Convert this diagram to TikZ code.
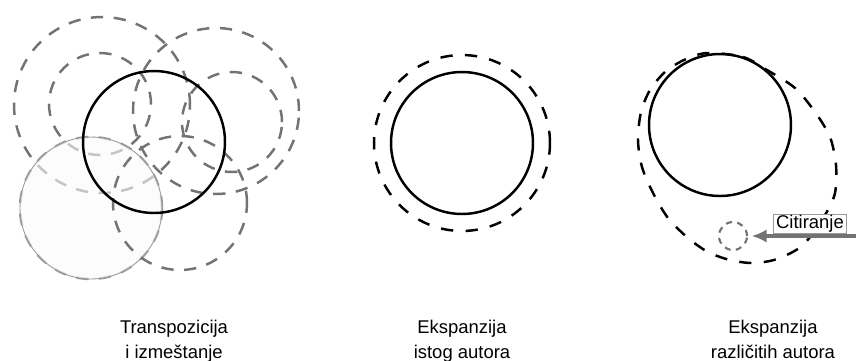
\documentclass[tikz,border=0pt]{standalone}
\usepackage{fontspec}
\setmainfont{Liberation Sans}
\usetikzlibrary{arrows.meta,positioning}

\begin{document}
\begin{tikzpicture}[
    x=0.02cm, y=-0.02cm,
    ring/.style={circle, draw, line width=1.4pt, inner sep=0pt, minimum size=2.84cm},
    ghost/.style={circle, draw=black!55, line width=1.4pt, dash pattern=on 7pt off 6pt, inner sep=0pt},
    halo/.style={draw, line width=1.4pt, dash pattern=on 7pt off 7pt},
    caption/.style={align=center, anchor=north, inner sep=0pt, font=\fontsize{10.5}{14}\selectfont},
]
    \useasboundingbox (0,0) rectangle (856,360);

    % Transpozicija
    \node[ghost, draw=black!40, minimum size=2.84cm] (gf) at (91,208) {};
    \node[ghost, minimum size=3.52cm] (ga) at (102,105) {};
    \node[ghost, minimum size=2.04cm] (gc) at (100,104) {};
    \node[circle, fill=black!2, fill opacity=0.6, draw=black!40, line width=0.5pt, inner sep=0pt, minimum size=2.84cm] (moved) at (91,208) {};
    \node[ghost, minimum size=3.32cm] (gb) at (216,111) {};
    \node[ghost, minimum size=2.0cm] (gd) at (232,122) {};
    \node[ghost, minimum size=2.68cm] (ge) at (180,203) {};
    \node[ring] (orig1) at (154,142) {};

    % Ekspanzija istog autora
    \node[ring] (orig2) at (462,143) {};
    \node[halo, circle, inner sep=0pt, minimum size=3.52cm] (same) at (462,143) {};

    % Ekspanzija razlicitih autora
    \node[ring] (orig3) at (720,125) {};
    \draw[halo] plot[smooth cycle] coordinates {(707,53) (743,57) (767,70) (795,88) (815,112) (830,137) (836,165) (835,193) (825,215) (803,245) (777,259) (753,263) (730,260) (708,252) (688,238) (668,218) (653,193) (642,167) (638,140) (641,112) (650,90) (665,72) (684,60)};
    \node[circle, draw=black!55, line width=1.2pt, dash pattern=on 3.5pt off 3pt, inner sep=0pt, minimum size=0.56cm] (cite) at (733,236) {};
    \node[draw=black!40, fill=white, line width=0.4pt, inner xsep=1.7pt, inner ysep=0.5pt, font=\fontsize{10.5}{12}\selectfont] (citelbl) at (810,224) {Citiranje};
    \coordinate (edge) at (856,236);
    \draw[-{Latex[length=8.5pt, width=7.5pt]}, black!55, line width=2pt, shorten >=2pt] (edge) -- (cite.east);

    % Labels
    \node[caption] (lbl1) at (174,320) {Transpozicija\\i izmeštanje};
    \node[caption] (lbl2) at (462,320) {Ekspanzija\\istog autora};
    \node[caption] (lbl3) at (773,320) {Ekspanzija\\različitih autora};
\end{tikzpicture}
\end{document}
